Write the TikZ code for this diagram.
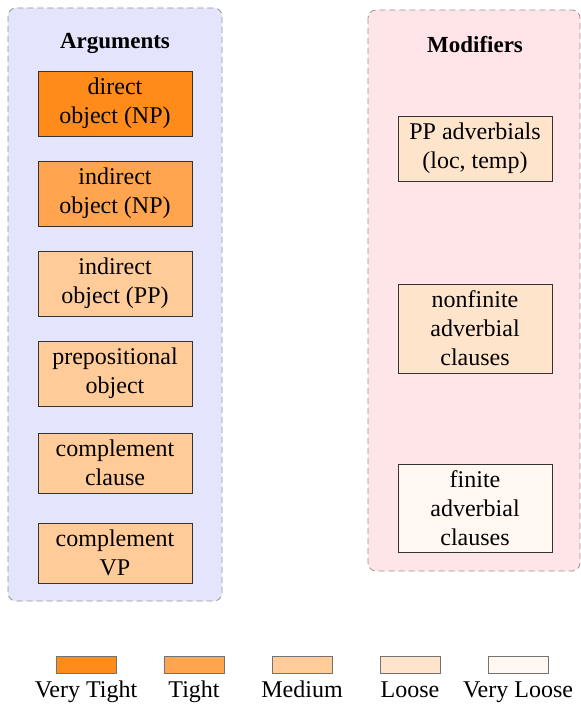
\documentclass[tikz,border=0pt]{standalone}
\usepackage{fontspec}
\setmainfont{Liberation Serif}
\definecolor{vtight}{RGB}{255,140,26}
\definecolor{tight}{RGB}{255,165,79}
\definecolor{medium}{RGB}{255,204,153}
\definecolor{loose}{RGB}{255,228,204}
\definecolor{vloose}{RGB}{255,247,240}
\definecolor{argbg}{RGB}{228,228,252}
\definecolor{modbg}{RGB}{255,228,232}
\definecolor{frame}{RGB}{150,150,150}
\begin{document}
\begin{tikzpicture}[x=0.5pt,y=-0.5pt,
  container/.style={draw=frame,dash pattern=on 3pt off 2pt,rounded corners=4pt,line width=0.4pt},
  cat/.style={draw=black!80,line width=0.4pt,minimum width=77pt,align=center,font=\fontsize{12}{14.5}\selectfont,inner sep=0pt},
  title/.style={font=\fontsize{11.5}{14}\selectfont\bfseries},
  swatch/.style={draw=black!55,line width=0.4pt,minimum width=30pt,minimum height=8.5pt,inner sep=0pt},
  lab/.style={font=\fontsize{12}{14.5}\selectfont,anchor=base,inner sep=0pt}]
\useasboundingbox (0,0) rectangle (581,704);
\fill[white] (0,0) rectangle (581,704);
% containers
\draw[container,fill=argbg] (8,8) rectangle (222,601);
\draw[container,fill=modbg] (368,10) rectangle (580,571);
\node[title] (targ) at (115,43) {Arguments};
\node[title] (tmod) at (475,45) {Modifiers};
% argument boxes
\node[cat,fill=vtight,minimum height=32.5pt] (a1) at (115,103.5) {direct\\object (NP)};
\node[cat,fill=tight,minimum height=32.5pt] (a2) at (115,193.5) {indirect\\object (NP)};
\node[cat,fill=medium,minimum height=32.5pt] (a3) at (115,283.5) {indirect\\object (PP)};
\node[cat,fill=medium,minimum height=32.5pt] (a4) at (115,373.5) {prepositional\\object};
\node[cat,fill=medium,minimum height=30pt] (a5) at (115,463) {complement\\clause};
\node[cat,fill=medium,minimum height=30pt] (a6) at (115,553) {complement\\VP};
% modifier boxes
\node[cat,fill=loose,minimum height=32.5pt] (m1) at (475,148.5) {PP adverbials\\(loc, temp)};
\node[cat,fill=loose,minimum height=44.5pt] (m2) at (475,328.5) {nonfinite\\adverbial\\clauses};
\node[cat,fill=vloose,minimum height=44pt] (m3) at (475,508) {finite\\adverbial\\clauses};
% legend
\node[swatch,fill=vtight] (s1) at (86,664.5) {};
\node[swatch,fill=tight] (s2) at (194,664.5) {};
\node[swatch,fill=medium] (s3) at (302,664.5) {};
\node[swatch,fill=loose] (s4) at (410,664.5) {};
\node[swatch,fill=vloose] (s5) at (518,664.5) {};
\node[lab] (l1) at (86,697) {Very Tight};
\node[lab] (l2) at (194,697) {Tight};
\node[lab] (l3) at (302,697) {Medium};
\node[lab] (l4) at (410,697) {Loose};
\node[lab] (l5) at (518,697) {Very Loose};
\end{tikzpicture}
\end{document}
